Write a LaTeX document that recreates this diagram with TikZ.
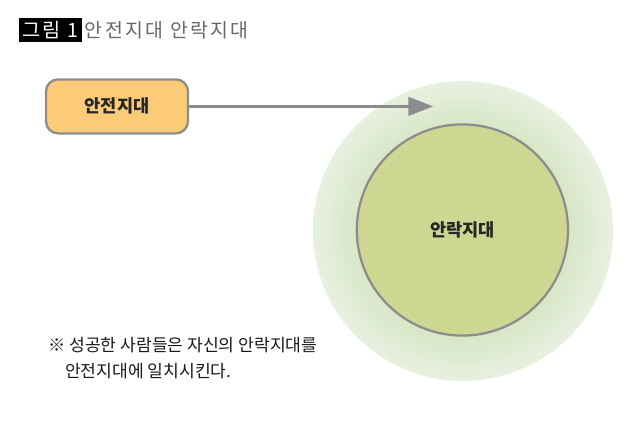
\documentclass[tikz,border=0pt]{standalone}
\usepackage{fontspec}
\setmainfont{Noto Sans CJK KR}
\newfontfamily\titlefont[LetterSpace=12]{Noto Sans CJK KR}
\usetikzlibrary{arrows.meta,positioning}
\definecolor{linegray}{HTML}{8C8C8C}
\definecolor{boxorange}{HTML}{FBCB78}
\definecolor{innergreen}{HTML}{CED792}
\definecolor{haloin}{HTML}{D8E6C6}
\definecolor{haloout}{HTML}{E8F0E0}
\pgfdeclareradialshading{halo}{\pgfpoint{0bp}{0bp}}{%
  color(0bp)=(haloin); color(17.5bp)=(haloin); color(25bp)=(haloout); color(50bp)=(haloout)}
\tikzset{
  zonelabel/.style={font=\fontsize{12.5pt}{14pt}\selectfont\bfseries, text=black!85},
  notetext/.style={font=\fontsize{12.2pt}{18.4pt}\selectfont, text=black!90, align=left, inner sep=0pt}
}
\begin{document}
\begin{tikzpicture}
  \useasboundingbox (0, 0) rectangle (16, 10.8);
  \node (tag) [fill=black, text=white, minimum width=1.58cm, minimum height=0.6cm, inner sep=0pt,
        font=\fontsize{14pt}{15pt}\titlefont] at (1.26, 10.05) {그림 1};
  \node (title) [right=0.06cm of tag, inner sep=0pt, text=black!60,
        font=\fontsize{13.8pt}{16pt}\titlefont] {안전지대 안락지대};
  \node (outer) [circle, minimum size=7.5cm, inner sep=0pt, shading=halo] at (11.575, 5.025) {};
  \node (inner) [circle, minimum size=5.28cm, inner sep=0pt, draw=linegray, line width=1.6pt,
        fill=innergreen, zonelabel] at (11.56, 5.05) {안락지대};
  \node (safe) [draw=linegray, line width=1.6pt, fill=boxorange, rounded corners=0.3cm,
        minimum width=3.55cm, minimum height=1.35cm, inner sep=0pt, zonelabel] at (2.925, 8.14) {안전지대};
  \coordinate (tip) at (10.83, 8.14);
  \draw[linegray, line width=2.3pt, -{Triangle[length=0.62cm, width=0.46cm]}] (safe) -- (tip);
  \node (note) [notetext, anchor=north west] at (1.2, 2.38)
        {※ 성공한 사람들은 자신의 안락지대를\\\hspace{0.42cm}안전지대에 일치시킨다.};
\end{tikzpicture}
\end{document}
